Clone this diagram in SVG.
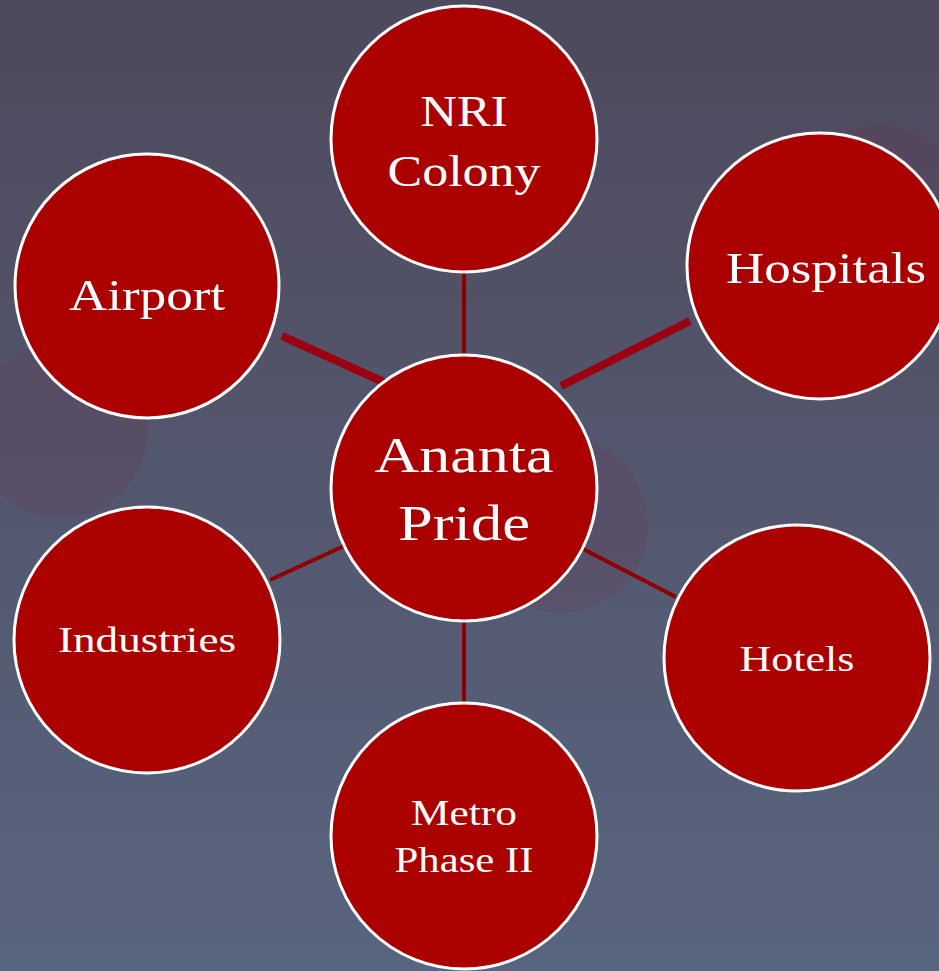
<svg xmlns="http://www.w3.org/2000/svg" width="939" height="971" viewBox="0 0 939 971">
<defs>
<linearGradient id="bg" x1="0" y1="0" x2="0" y2="1">
<stop offset="0" stop-color="#4e495c"/>
<stop offset="1" stop-color="#58657f"/>
</linearGradient>
<style>
.node circle{fill:#ab0000;stroke:#ffffff;stroke-width:3}
.node text{fill:#ffffff;font-family:"Liberation Serif","DejaVu Serif",serif;text-anchor:middle}
.thin{stroke:#8e0000;stroke-width:4;fill:none}
.glow{fill:#6a3050;opacity:0.2}
</style>
</defs>
<rect width="939" height="971" fill="url(#bg)"/>
<circle class="glow" cx="60" cy="430" r="88"/>
<circle class="glow" cx="560" cy="525" r="88"/>
<circle class="glow" cx="880" cy="210" r="85"/>
<g id="connectors">
<line class="thin" x1="464" y1="272" x2="464" y2="356"/>
<line class="thin" x1="464" y1="622" x2="464" y2="704"/>
<line class="thin" x1="270" y1="580" x2="344" y2="546"/>
<line class="thin" x1="583" y1="549" x2="676" y2="597"/>
<line x1="282" y1="336" x2="388" y2="384" stroke="#9a0012" stroke-width="8"/>
<line x1="561" y1="386" x2="690" y2="321" stroke="#9a0012" stroke-width="8"/>
</g>
<g id="nri" class="node"><circle cx="464" cy="139" r="133"/><text x="464" y="126" font-size="44" textLength="87" lengthAdjust="spacingAndGlyphs">NRI</text><text x="464" y="186" font-size="44" textLength="153" lengthAdjust="spacingAndGlyphs">Colony</text></g>
<g id="airport" class="node"><circle cx="147" cy="286" r="132"/><text x="147" y="310" font-size="44" textLength="156" lengthAdjust="spacingAndGlyphs">Airport</text></g>
<g id="hospitals" class="node"><circle cx="820" cy="266" r="133"/><text x="826" y="283" font-size="44" textLength="200" lengthAdjust="spacingAndGlyphs">Hospitals</text></g>
<g id="center" class="node"><circle cx="464" cy="488" r="133"/><text x="464" y="472" font-size="50" textLength="179" lengthAdjust="spacingAndGlyphs">Ananta</text><text x="464" y="540" font-size="50" textLength="132" lengthAdjust="spacingAndGlyphs">Pride</text></g>
<g id="industries" class="node"><circle cx="147" cy="640" r="133"/><text x="147" y="652" font-size="36" textLength="178" lengthAdjust="spacingAndGlyphs">Industries</text></g>
<g id="hotels" class="node"><circle cx="797" cy="658" r="133"/><text x="797" y="671" font-size="36" textLength="115" lengthAdjust="spacingAndGlyphs">Hotels</text></g>
<g id="metro" class="node"><circle cx="464" cy="836" r="133"/><text x="464" y="825" font-size="36" textLength="106" lengthAdjust="spacingAndGlyphs">Metro</text><text x="464" y="872" font-size="36" textLength="139" lengthAdjust="spacingAndGlyphs">Phase II</text></g>
</svg>
